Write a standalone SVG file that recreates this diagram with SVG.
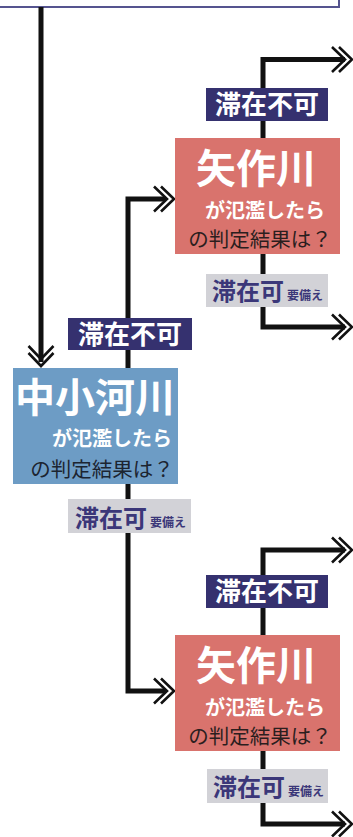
<svg xmlns="http://www.w3.org/2000/svg" width="353" height="837" viewBox="0 0 353 837">
<style>
.ln{fill:none;stroke:#111;stroke-width:5;stroke-linejoin:miter;stroke-linecap:butt}
.ch{fill:none;stroke:#111;stroke-width:2.6;stroke-linejoin:miter}
.t{font-family:"Noto Sans CJK JP","Noto Sans",sans-serif}
.big{font-size:40px;font-weight:700;fill:#fff;text-anchor:middle}
.sub{font-size:20px;font-weight:700;fill:#fff;text-anchor:middle}
.q{font-size:20.5px;font-weight:400;fill:#2b1e1e;text-anchor:middle}
.ng{fill:#35316f}
.nt{font-size:26px;font-weight:700;fill:#fff;text-anchor:middle}
.gg{fill:#d2d2d7}
.gt{font-size:24px;font-weight:700;fill:#3b3779}
.red{fill:#d9736d}
.blue{fill:#6d9cc5}
</style>
<defs>
<path id="chev" class="ch" d="M-13,-12.5 L0,0 L-13,12.5 M-20,-12.5 L-7,0 L-20,12.5"/>
</defs>
<rect width="353" height="837" fill="#fff"/>
<g id="top-box">
<rect x="-3" y="-10" width="342" height="17" fill="#fff" stroke="#55548f" stroke-width="2"/>
</g>
<g id="connectors">
<path class="ln" d="M41,7 V362"/>
<use href="#chev" transform="translate(41,366) rotate(90)"/>
<path class="ln" d="M128,370 V199 H166"/>
<use href="#chev" transform="translate(174,199)"/>
<path class="ln" d="M128,482 V691 H166"/>
<use href="#chev" transform="translate(174,691)"/>
<path class="ln" d="M263,140 V59.5 H345"/>
<use href="#chev" transform="translate(352,59.5)"/>
<path class="ln" d="M263,252 V327 H345"/>
<use href="#chev" transform="translate(352,327)"/>
<path class="ln" d="M263,637 V550 H345"/>
<use href="#chev" transform="translate(352,550)"/>
<path class="ln" d="M263,749 V824 H345"/>
<use href="#chev" transform="translate(352,824)"/>
</g>
<g id="chusho">
<rect class="blue" x="13" y="368" width="165" height="116"/>
<text class="t big" x="95" y="412">中小河川</text>
<text class="t sub" x="112" y="446">が氾濫したら</text>
<text class="t q" x="102" y="477" style="fill:#1c2430">の判定結果は？</text>
</g>
<g id="chusho-fuka">
<rect class="ng" x="68" y="318" width="124" height="32"/>
<text class="t nt" x="130" y="344">滞在不可</text>
</g>
<g id="chusho-ka">
<rect class="gg" x="68" y="499" width="123" height="34"/>
<text class="t gt" x="75" y="527">滞在可<tspan font-size="12" dx="3">要備え</tspan></text>
</g>
<g id="yahagi1">
<rect class="red" x="175" y="138" width="165" height="116"/>
<text class="t big" x="256" y="183">矢作川</text>
<text class="t sub" x="265" y="218">が氾濫したら</text>
<text class="t q" x="260" y="247">の判定結果は？</text>
</g>
<g id="yahagi1-fuka">
<rect class="ng" x="206" y="88" width="122" height="33"/>
<text class="t nt" x="267" y="114">滞在不可</text>
</g>
<g id="yahagi1-ka">
<rect class="gg" x="206" y="274" width="122" height="33"/>
<text class="t gt" x="212" y="300">滞在可<tspan font-size="12" dx="3">要備え</tspan></text>
</g>
<g id="yahagi2">
<rect class="red" x="175" y="635" width="165" height="116"/>
<text class="t big" x="256" y="680">矢作川</text>
<text class="t sub" x="265" y="715">が氾濫したら</text>
<text class="t q" x="260" y="744">の判定結果は？</text>
</g>
<g id="yahagi2-fuka">
<rect class="ng" x="206" y="575" width="122" height="33"/>
<text class="t nt" x="267" y="601">滞在不可</text>
</g>
<g id="yahagi2-ka">
<rect class="gg" x="207" y="769" width="121" height="34"/>
<text class="t gt" x="213" y="796">滞在可<tspan font-size="12" dx="3">要備え</tspan></text>
</g>
</svg>
